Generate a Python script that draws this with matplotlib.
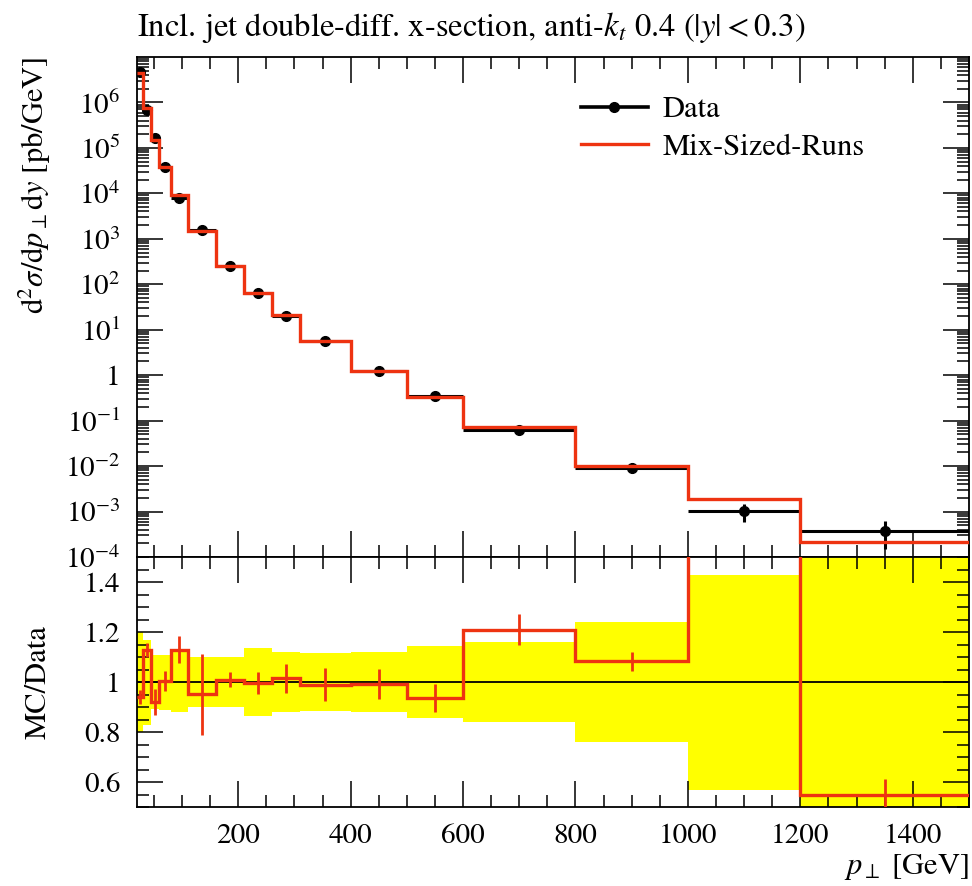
import numpy as np
import matplotlib
matplotlib.use('Agg')
import matplotlib.pyplot as plt
from matplotlib.ticker import FixedLocator, MultipleLocator, LogLocator, NullFormatter, FuncFormatter
from matplotlib.lines import Line2D

plt.rcParams['font.family'] = 'STIXGeneral'
plt.rcParams['mathtext.fontset'] = 'stix'

# bins in pT [GeV]
bin_edges = [20, 30, 45, 60, 80, 110, 160, 210, 260, 310, 400, 500, 600, 800, 1000, 1200, 1500]

# data (pb/GeV) and relative uncertainty
data_vals = [4.75e6, 6.8e5, 1.63e5, 3.74e4, 8020, 1563, 251, 63.2, 20.3, 5.73,
             1.25, 0.35, 0.061, 9.2e-3, 1.04e-3, 3.8e-4]
data_relerr = [0.20, 0.17, 0.107, 0.11, 0.12, 0.10, 0.10, 0.135, 0.12, 0.115,
               0.12, 0.145, 0.16, 0.24, 0.43, 0.60]

# MC (Mix-Sized-Runs) and its relative uncertainty
mc_vals = [4.47e6, 7.68e5, 1.50e5, 3.76e4, 9060, 1485, 253.5, 62.9, 20.6, 5.67,
           1.24, 0.328, 0.0738, 9.97e-3, 1.87e-3, 2.09e-4]
mc_relerr = [0.03, 0.025, 0.057, 0.04, 0.047, 0.17, 0.03, 0.043, 0.058, 0.067,
             0.06, 0.06, 0.051, 0.035, 0.08, 0.11]

edges = np.array(bin_edges, dtype=float)
centers = 0.5 * (edges[1:] + edges[:-1])
halfw = 0.5 * (edges[1:] - edges[:-1])
data = np.array(data_vals)
mc = np.array(mc_vals)
ratio = mc / data

red = '#EE3311'
fs = 22

fig = plt.figure(figsize=(9.72, 8.86), dpi=100)
ax = fig.add_axes([137/972, 1-557/886, 832/972, 500/886])
axr = fig.add_axes([137/972, 1-807/886, 832/972, 250/886], sharex=ax)

# --- main panel
ax.errorbar(centers, data, xerr=halfw, yerr=data*np.array(data_relerr), fmt='o',
            color='black', ms=7, lw=2.2, capsize=0, zorder=2)
ax.stairs(mc, edges, baseline=None, color=red, lw=2.4, zorder=3)
ax.set_yscale('log')
ax.set_xlim(20, 1500)
ax.set_ylim(1e-4, 1e7)
ax.yaxis.set_major_locator(FixedLocator([10.0**k for k in range(-4, 7)]))
ax.yaxis.set_minor_locator(LogLocator(base=10, subs=np.arange(2, 10), numticks=50))
ax.yaxis.set_minor_formatter(NullFormatter())

def logfmt(v, pos):
    k = int(round(np.log10(v)))
    if k == 0:
        return '1'
    return r'$10^{%d}$' % k

ax.yaxis.set_major_formatter(FuncFormatter(logfmt))
ax.set_ylabel(r'$\mathrm{d}^2\sigma/\mathrm{d}p_\perp\mathrm{d}y$ [pb/GeV]', fontsize=fs, loc='top')
ax.yaxis.set_label_coords(-0.101, 1.0)
plt.setp(ax.get_xticklabels(), visible=False)
ax.set_title(r'Incl. jet double-diff. x-section, anti-$k_t$ 0.4 ($|y| < 0.3$)',
             fontsize=23.5, loc='left', pad=15)

handles = [Line2D([], [], color='black', marker='o', ms=7, lw=2.6),
           Line2D([], [], color=red, lw=2.4)]
ax.legend(handles, ['Data', 'Mix-Sized-Runs'], loc='upper left', bbox_to_anchor=(0.5, 0.977),
          frameon=False, fontsize=fs, handlelength=2.2, handletextpad=0.5, labelspacing=0.3)

# --- ratio panel
rel = np.array(data_relerr)
axr.bar(centers, 2*rel, bottom=1-rel, width=2*halfw, color='#FFFF00', lw=0, zorder=1)
axr.axhline(1.0, color='black', lw=1.3, zorder=2)
axr.stairs(ratio, edges, baseline=None, color=red, lw=2.4, zorder=3)
axr.errorbar(centers, ratio, yerr=ratio*np.array(mc_relerr), fmt='none', ecolor=red,
             elinewidth=2, capsize=0, zorder=3)
axr.set_ylim(0.5, 1.5)
axr.yaxis.set_major_locator(FixedLocator([0.6, 0.8, 1.0, 1.2, 1.4]))
axr.yaxis.set_minor_locator(MultipleLocator(0.05))
axr.yaxis.set_major_formatter(FuncFormatter(lambda v, p: '1' if abs(v-1) < 1e-6 else '%.1f' % v))
axr.xaxis.set_major_locator(MultipleLocator(200))
axr.xaxis.set_minor_locator(MultipleLocator(50))
axr.set_ylabel('MC/Data', fontsize=fs)
axr.yaxis.set_label_coords(-0.101, 0.5)
axr.set_xlabel(r'$p_\perp$ [GeV]', fontsize=fs, loc='right', labelpad=2)

for a in (ax, axr):
    a.tick_params(which='both', direction='in', top=True, right=True, labelsize=fs-1, width=1.1)
    a.tick_params(which='major', length=19, pad=12)
    a.tick_params(which='minor', length=8.5)
    for s in a.spines.values():
        s.set_linewidth(1.3)

fig.savefig('out.png', dpi=100)
